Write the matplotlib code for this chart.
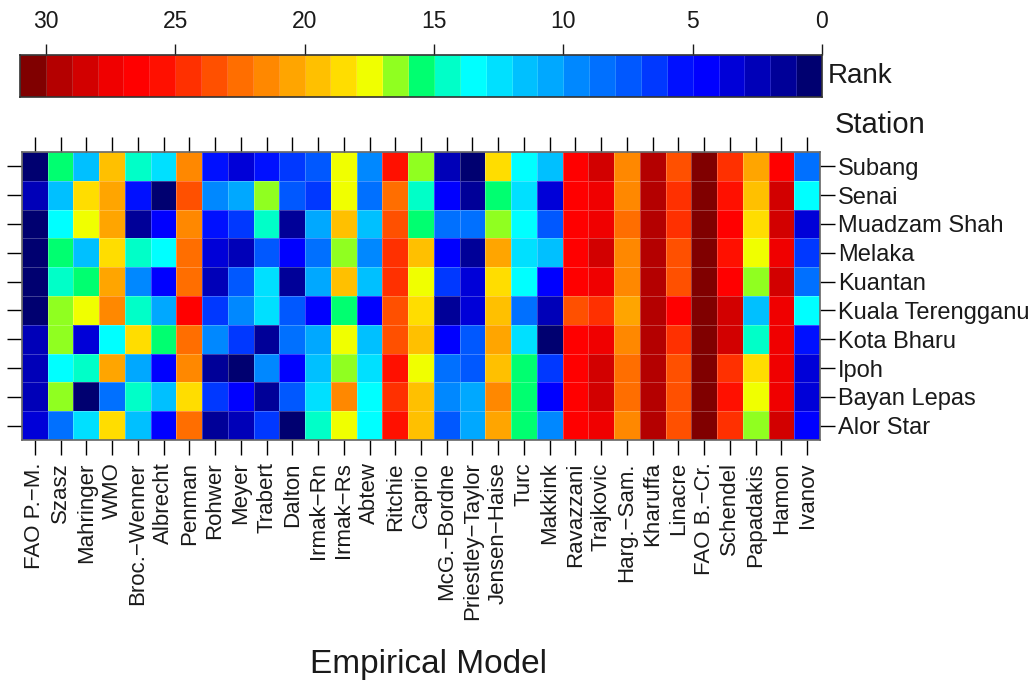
import numpy as np
import matplotlib
matplotlib.use('Agg')
import matplotlib.pyplot as plt
from matplotlib.colors import ListedColormap, BoundaryNorm

plt.rcParams['font.family'] = ['Liberation Sans', 'DejaVu Sans']

# empirical models (columns) and stations (rows, top to bottom)
models = ['FAO P.\u2212M.', 'Szasz', 'Mahringer', 'WMO', 'Broc.\u2212Wenner', 'Albrecht',
          'Penman', 'Rohwer', 'Meyer', 'Trabert', 'Dalton', 'Irmak\u2212Rn', 'Irmak\u2212Rs',
          'Abtew', 'Ritchie', 'Caprio', 'McG.\u2212Bordne', 'Priestley\u2212Taylor',
          'Jensen\u2212Haise', 'Turc', 'Makkink', 'Ravazzani', 'Trajkovic', 'Harg.\u2212Sam.',
          'Kharuffa', 'Linacre', 'FAO B.\u2212Cr.', 'Schendel', 'Papadakis', 'Hamon', 'Ivanov']
stations = ['Subang', 'Senai', 'Muadzam Shah', 'Melaka', 'Kuantan', 'Kuala Terengganu',
            'Kota Bharu', 'Ipoh', 'Bayan Lepas', 'Alor Star']

# rank of each model at each station
subang    = [1, 16, 12, 20, 15, 13, 22, 6, 4, 6, 7, 8, 18, 10, 26, 17, 3, 1, 19, 14, 12, 27, 29, 22, 30, 24, 31, 25, 21, 27, 9]
senai     = [3, 12, 19, 21, 6, 1, 24, 10, 11, 17, 8, 7, 18, 9, 23, 15, 5, 2, 16, 13, 4, 27, 28, 22, 30, 25, 31, 26, 20, 29, 14]
muadzam   = [1, 14, 18, 21, 2, 5, 22, 6, 7, 15, 2, 11, 20, 12, 24, 16, 9, 9, 17, 14, 8, 27, 28, 23, 30, 25, 31, 27, 19, 29, 4]
melaka    = [1, 16, 12, 19, 15, 14, 23, 4, 3, 8, 5, 9, 17, 10, 25, 20, 5, 2, 21, 13, 12, 27, 29, 22, 30, 24, 31, 26, 18, 28, 7]
kuantan   = [1, 15, 16, 21, 10, 5, 23, 3, 8, 13, 2, 11, 20, 12, 25, 18, 7, 4, 19, 14, 5, 27, 28, 22, 30, 24, 31, 27, 17, 29, 9]
kuala_t   = [1, 17, 18, 22, 15, 11, 27, 7, 10, 13, 8, 5, 16, 5, 24, 19, 2, 4, 20, 9, 3, 24, 25, 21, 30, 27, 31, 29, 12, 28, 14]
kota_bh   = [3, 17, 4, 14, 19, 16, 23, 10, 7, 2, 9, 11, 18, 12, 24, 20, 5, 8, 21, 13, 1, 27, 28, 22, 30, 25, 31, 29, 15, 28, 6]
ipoh      = [3, 14, 15, 21, 11, 5, 22, 2, 1, 10, 5, 12, 17, 13, 26, 18, 9, 8, 20, 16, 7, 27, 29, 23, 30, 24, 31, 25, 19, 28, 4]
bayan     = [3, 17, 1, 9, 15, 12, 19, 7, 5, 2, 8, 13, 22, 14, 25, 20, 10, 11, 22, 16, 5, 27, 29, 23, 30, 24, 31, 26, 18, 28, 4]
alor_star = [4, 9, 13, 19, 12, 5, 23, 2, 3, 7, 1, 15, 18, 14, 26, 20, 8, 11, 21, 16, 10, 27, 28, 22, 30, 24, 31, 25, 17, 29, 5]

# 31 colours, rank 1 .. 31
rank_colors = ['#000070', '#000098', '#0000B8', '#0000D8', '#0000FF', '#0010FF', '#0038FF',
               '#0058FF', '#0070FF', '#0088FF', '#00A8FF', '#00C0FF', '#00E0FF', '#00FFFF',
               '#00FFC8', '#00FF70', '#90FF20', '#F0FF00', '#FFDD00', '#FFC000', '#FFA500',
               '#FF8800', '#FF6E00', '#FF5000', '#FF3000', '#FF1000', '#FF0000', '#F00000',
               '#D20000', '#B40000', '#800000']

ranks = np.array([subang, senai, muadzam, melaka, kuantan, kuala_t,
                  kota_bh, ipoh, bayan, alor_star])
cmap = ListedColormap(rank_colors)
norm = BoundaryNorm(np.arange(0.5, 32.5, 1), cmap.N)
txt = '#1a1a1a'

fig = plt.figure(figsize=(10.35, 6.88), dpi=100)

# heatmap
ax = fig.add_axes([22/1035, 1-440/688, 798/1035, 288/688])
nr, nc = ranks.shape
ax.pcolormesh(np.arange(nc+1), np.arange(nr+1), ranks, cmap=cmap, norm=norm,
              edgecolor=(1, 1, 1, 0.25), linewidth=0.4)
ax.set_xlim(0, nc)
ax.set_ylim(nr, 0)
ax.set_xticks(np.arange(nc) + 0.5)
ax.set_xticklabels(models, rotation=90, fontsize=16, color=txt)
ax.set_yticks(np.arange(nr) + 0.5)
ax.set_yticklabels(stations, fontsize=17, color=txt)
ax.yaxis.tick_right()
ax.tick_params(axis='x', top=True, bottom=True, length=11, width=1, pad=5)
ax.tick_params(axis='y', left=True, right=True, length=11, width=1, pad=2)
for s in ax.spines.values():
    s.set_color('#666666')
    s.set_linewidth(1.2)

# colorbar on top
cax = fig.add_axes([20/1035, 1-97/688, 802/1035, 42/688])
cax.pcolormesh(np.arange(0, 32), [0, 1], np.arange(1, 32).reshape(1, -1), cmap=cmap, norm=norm,
               edgecolor=(1, 1, 1, 0.15), linewidth=0.4)
cax.set_xlim(31, 0)
cax.set_ylim(0, 1)
cax.set_yticks([])
cax.xaxis.tick_top()
cax.set_xticks([30, 25, 20, 15, 10, 5, 0])
cax.tick_params(axis='x', length=8, width=1, pad=8, labelsize=16.5, colors=txt)
for s in cax.spines.values():
    s.set_color('#333333')
    s.set_linewidth(1.2)

fig.text(828/1035, 1-76/688, 'Rank', fontsize=20, color=txt, va='center', ha='left')
fig.text(835/1035, 1-125/688, 'Station', fontsize=21, color=txt, va='center', ha='left')
fig.text(428/1035, 1-664/688, 'Empirical Model', fontsize=24, color=txt, va='center', ha='center')

fig.savefig('out.png', dpi=100)
